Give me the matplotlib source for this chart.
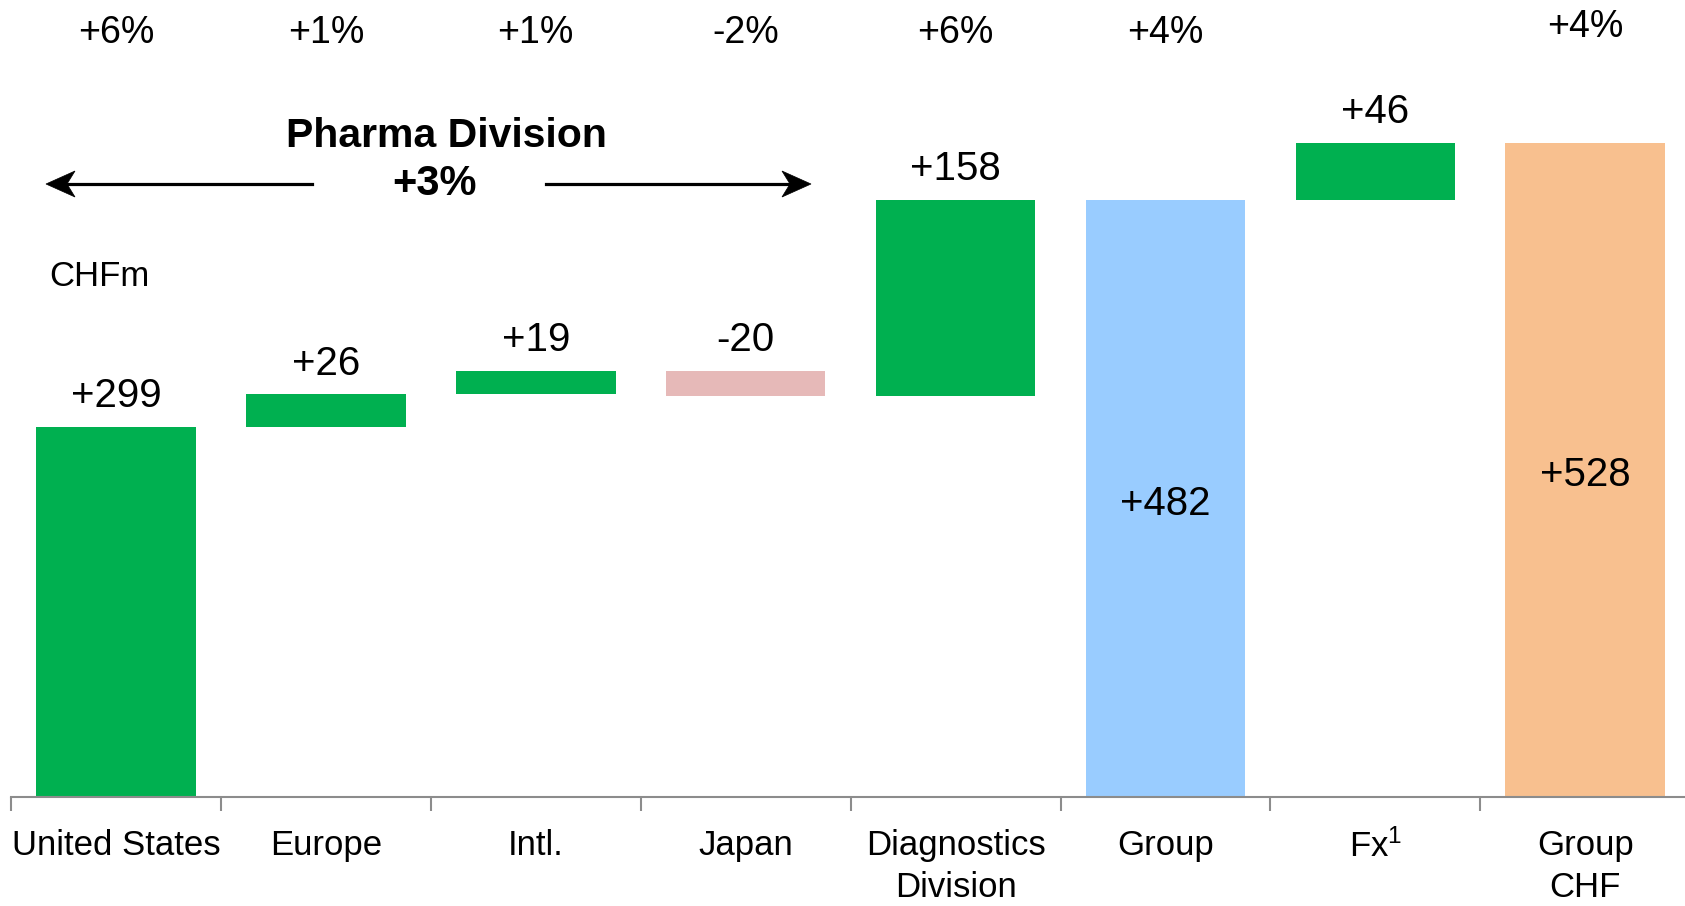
import matplotlib
matplotlib.use("Agg")
import matplotlib.pyplot as plt
from matplotlib.patches import Polygon
from matplotlib.lines import Line2D
from matplotlib.transforms import blended_transform_factory

plt.rcParams['font.family'] = ['Liberation Sans', 'DejaVu Sans']
plt.rcParams['mathtext.default'] = 'regular'

categories = ["United States", "Europe", "Intl.", "Japan", "Diagnostics\nDivision", "Group",
              "Fx$^{1}$", "Group\nCHF"]
values = [299, 26, 19, -20, 158, 482, 46, 528]
is_total = [False, False, False, False, False, True, False, True]
value_labels = ["+299", "+26", "+19", "-20", "+158", "+482", "+46", "+528"]
pct_labels = ["+6%", "+1%", "+1%", "-2%", "+6%", "+4%", "", "+4%"]

GREEN = "#00B050"
PINK = "#E6B9B8"
BLUE = "#99CCFF"
PEACH = "#F8C08F"
total_colors = {5: BLUE, 7: PEACH}

W, H = 1685, 906
fig = plt.figure(figsize=(W / 100, H / 100), dpi=100)
base_px = 797
left_px = 11
cat_px = 209.9
ax = fig.add_axes([left_px / W, (H - base_px) / H, 8 * cat_px / W, base_px / H])
ymax = base_px / (1.153 * 1.0746)
ax.set_ylim(0, ymax)
ax.set_xlim(-0.5, 7.5)

running = 0
x = list(range(len(categories)))
for i, v in enumerate(values):
    if is_total[i]:
        bottom, height = 0, v
        color = total_colors[i]
        running = v
    else:
        if v >= 0:
            bottom, height = running, v
            color = GREEN
        else:
            bottom, height = running + v, -v
            color = PINK
        start = running
        running += v
    ax.bar(x[i], height, bottom=bottom, width=0.76, color=color, zorder=2)
    if is_total[i]:
        ax.annotate(value_labels[i], (x[i], v / 2), xytext=(0, -4), textcoords='offset points',
                    ha='center', va='center', fontsize=29)
    else:
        top = max(start, running)
        ax.annotate(value_labels[i], (x[i], top), xytext=(0, 22), textcoords='offset points',
                    ha='center', va='center', fontsize=29)

# percentage row
trans = blended_transform_factory(ax.transData, fig.transFigure)
for i, p in enumerate(pct_labels):
    if p:
        yf = 1 - (27 if i == 7 else 33) / H
        ax.text(x[i], yf, p, transform=trans, ha='center', va='center', fontsize=27)

# Pharma division annotation
fig.text(446 / W, 1 - 136 / H, "Pharma Division", ha='center', va='center',
         fontsize=29.5, fontweight='bold')
fig.text(435 / W, 1 - 184 / H, "+3%", ha='center', va='center',
         fontsize=30, fontweight='bold')


def arrow(x_tail, x_tip, y):
    d = 1 if x_tip > x_tail else -1
    back = x_tip - d * 29
    notch = x_tip - d * 21
    fig.add_artist(Line2D([x_tail / W, notch / W], [1 - y / H, 1 - y / H],
                          transform=fig.transFigure, color='black', lw=2.3))
    pts = [(x_tip, y), (back, y - 13), (notch, y), (back, y + 13)]
    fig.add_artist(Polygon([(px / W, 1 - py / H) for px, py in pts], closed=True,
                           transform=fig.transFigure, facecolor='black', edgecolor='black', lw=0.5))


arrow(312, 46, 184)
arrow(546, 811, 184)

fig.text(49 / W, 1 - 277 / H, "CHFm", ha='left', va='center', fontsize=25)

# axes styling
for s in ['top', 'right', 'left']:
    ax.spines[s].set_visible(False)
ax.spines['bottom'].set_color('#8C8C8C')
ax.spines['bottom'].set_linewidth(1.5)
ax.set_yticks([])
ax.set_xticks([i - 0.5 for i in range(len(categories) + 1)])
ax.set_xticklabels([])
ax.tick_params(axis='x', which='major', direction='out', length=10, width=1.5, color='#8C8C8C')
ax.set_xticks(x, minor=True)
ax.set_xticklabels(categories, minor=True, fontsize=25, linespacing=1.35)
ax.tick_params(axis='x', which='minor', length=0, pad=23)
for lbl in ax.get_xticklabels(minor=True):
    lbl.set_verticalalignment('top')

fig.savefig("out.png", dpi=100)
